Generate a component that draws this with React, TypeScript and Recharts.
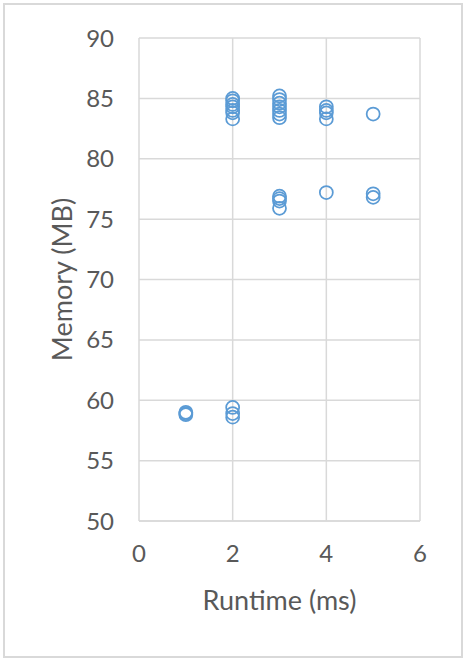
import { ScatterChart, Scatter, XAxis, YAxis, CartesianGrid } from "recharts";

// Runtime (ms) per run and memory used (MB)
const runtimeMs = [
  1, 1, 1,
  2, 2, 2,
  2, 2, 2, 2, 2, 2, 2,
  3, 3, 3, 3, 3, 3, 3,
  3, 3, 3, 3,
  4, 4, 4, 4,
  4,
  5, 5, 5,
];
const memoryMb = [
  59.0, 58.8, 58.9,
  59.4, 58.9, 58.6,
  85.0, 84.8, 84.5, 84.3, 84.0, 83.8, 83.3,
  85.2, 84.9, 84.6, 84.3, 84.0, 83.7, 83.4,
  76.9, 76.7, 76.5, 75.9,
  84.3, 84.0, 83.8, 83.3,
  77.2,
  83.7, 77.1, 76.8,
];

const xTicks = [0, 2, 4, 6];
const yTicks = [50, 55, 60, 65, 70, 75, 80, 85, 90];

const points = runtimeMs.map((x, i) => ({ x, y: memoryMb[i] }));

const font = "Lato, 'Liberation Sans', sans-serif";
const textColor = "#595959";
const gridColor = "#D9D9D9";

const Ring = (props: any) => (
  <circle
    cx={props.cx}
    cy={props.cy}
    r={6.5}
    fill="none"
    stroke="#5B9BD5"
    strokeWidth={1.75}
  />
);

export default function App() {
  return (
    <div
      style={{
        position: "absolute",
        left: 0,
        top: 0,
        width: 466,
        height: 660,
        background: "#fff",
        fontFamily: font,
      }}
    >
      <div
        style={{
          position: "absolute",
          left: 3,
          top: 3,
          width: 456,
          height: 651,
          border: "2px solid #D9D9D9",
        }}
      />
      <div style={{ position: "absolute", left: 0, top: 0 }}>
        <ScatterChart
          width={466}
          height={660}
          margin={{ top: 38, right: 46, bottom: 39, left: 0 }}
        >
          <CartesianGrid stroke={gridColor} strokeWidth={1.5} />
          <XAxis
            type="number"
            dataKey="x"
            domain={[0, 6]}
            ticks={xTicks}
            height={100}
            axisLine={{ stroke: gridColor, strokeWidth: 1.5 }}
            tickLine={false}
            tickSize={0}
            tickMargin={24}
            tick={{ fill: textColor, fontSize: 24, fontFamily: font }}
            label={{
              value: "Runtime (ms)",
              position: "insideBottom",
              offset: 11,
              fill: textColor,
              fontSize: 27,
              fontFamily: font,
            }}
          />
          <YAxis
            type="number"
            dataKey="y"
            domain={[50, 90]}
            ticks={yTicks}
            width={139}
            axisLine={false}
            tickLine={false}
            tickSize={0}
            tickMargin={25}
            tick={{ fill: textColor, fontSize: 24, fontFamily: font }}
            label={{
              value: "Memory (MB)",
              angle: -90,
              position: "insideLeft",
              offset: 62,
              style: { textAnchor: "middle" },
              fill: textColor,
              fontSize: 27,
              fontFamily: font,
            }}
          />
          <Scatter data={points} shape={Ring} isAnimationActive={false} />
        </ScatterChart>
      </div>
    </div>
  );
}
